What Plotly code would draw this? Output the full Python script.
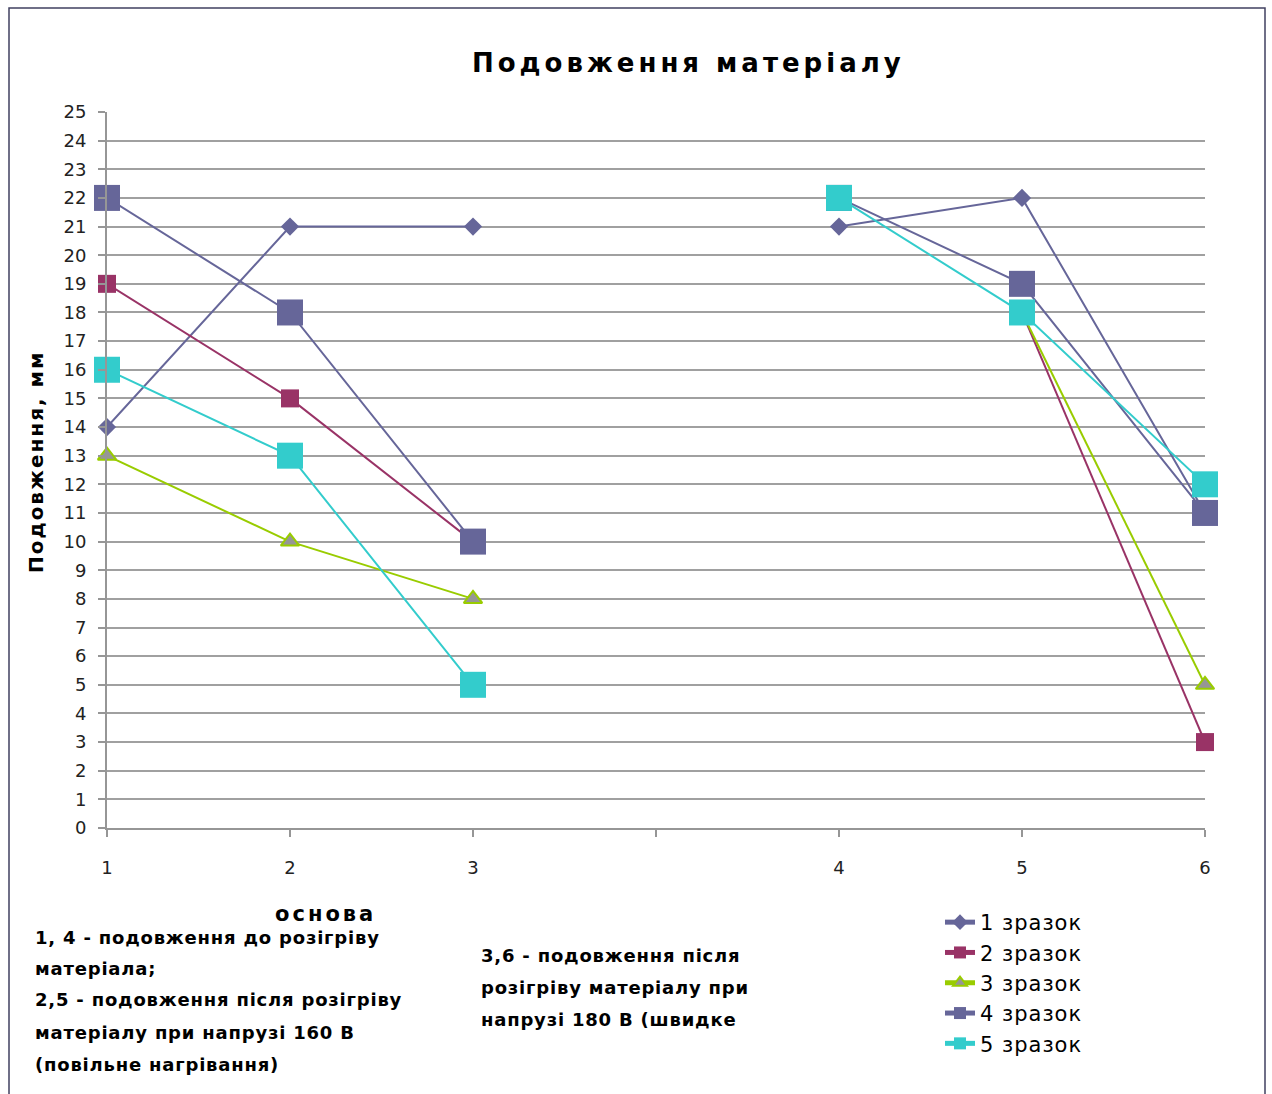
import plotly.graph_objects as go

# Category labels along the x axis (the empty slot separates the two test groups)
categories = ["1", "2", "3", "", "4", "5", "6"]

# Elongation, mm, for each specimen
series_names = ["1 зразок", "2 зразок", "3 зразок", "4 зразок", "5 зразок"]
sample1 = [14, 21, 21, None, 21, 22, 11]
sample2 = [19, 15, 10, None, None, 18, 3]
sample3 = [13, 10, 8, None, None, 18, 5]
sample4 = [22, 18, 10, None, 22, 19, 11]
sample5 = [16, 13, 5, None, 22, 18, 12]

y_ticks = list(range(0, 26))

W, H = 1272, 1094
L, R, T, B = 107, 1205, 112, 828  # plot area in pixels


def px(x):
    return (x - L) / (R - L)


def py(y):
    return (B - y) / (B - T)


xpos = list(range(len(categories)))

styles = [
    dict(color="#666699", symbol="diamond", size=14, fill="#666699", lw=0),
    dict(color="#993366", symbol="square", size=18, fill="#993366", lw=0),
    dict(color="#99CC00", symbol="triangle-up", size=16, fill="#969696", lw=2),
    dict(color="#666699", symbol="square", size=26, fill="#666699", lw=0),
    dict(color="#33CCCC", symbol="square", size=26, fill="#33CCCC", lw=0),
]

fig = go.Figure()
for name, vals, st in zip(series_names, [sample1, sample2, sample3, sample4, sample5], styles):
    fig.add_trace(go.Scatter(
        x=xpos, y=vals, mode="lines+markers",
        name="<span style='letter-spacing:1px'>" + name + "</span>",
        connectgaps=False, cliponaxis=False,
        line=dict(color=st["color"], width=2),
        marker=dict(symbol=st["symbol"], size=st["size"], color=st["fill"],
                    line=dict(color=st["color"], width=st["lw"])),
    ))

fig.update_layout(
    width=W, height=H,
    margin=dict(l=L, r=W - R, t=T, b=H - B),
    paper_bgcolor="white", plot_bgcolor="white",
    font=dict(family="DejaVu Sans", color="#000000"),
    showlegend=True,
    legend=dict(x=px(940), y=py(902), xanchor="left", yanchor="top",
                font=dict(family="DejaVu Sans", size=21, color="#000000"),
                bgcolor="rgba(0,0,0,0)", itemwidth=30, tracegroupgap=0,
                itemsizing="constant"),
    xaxis=dict(range=[0, 6], tickmode="array", tickvals=xpos, ticktext=categories,
               showgrid=False, zeroline=False, showline=True, linecolor="#969696",
               linewidth=2, ticks="outside", ticklen=7, tickcolor="#969696", tickwidth=2,
               tickfont=dict(size=18, color="#222222"), ticklabelstandoff=15),
    yaxis=dict(range=[0, 25], tickmode="array", tickvals=y_ticks,
               showgrid=True, gridcolor="#a0a0a0", gridwidth=2,
               zeroline=False, showline=True, linecolor="#969696", linewidth=2,
               ticks="outside", ticklen=7, tickcolor="#969696", tickwidth=2,
               tickfont=dict(size=18, color="#222222"), ticklabelstandoff=8),
)

ann = []
ann.append(dict(text="<b><span style='letter-spacing:4px'>Подовження матеріалу</span></b>",
                x=px(688), y=py(63), xanchor="center", yanchor="middle",
                font=dict(size=26)))
ann.append(dict(text="<b><span style='letter-spacing:2px'>Подовження, мм</span></b>",
                x=px(36), y=py(462), xanchor="center", yanchor="middle", textangle=-90,
                font=dict(size=20)))
ann.append(dict(text="<b><span style='letter-spacing:3px'>основа</span></b>",
                x=px(325), y=py(914), xanchor="center", yanchor="middle",
                font=dict(size=21)))

body = "<b><span style='letter-spacing:0.8px'>{}</span></b>"

left_lines = ["1, 4 - подовження до розігріву", "матеріала;",
              "2,5 - подовження після розігріву", "матеріалу при напрузі 160 В",
              "(повільне нагрівання)"]
left_y = [937, 968, 1000, 1032, 1064]
for t, yy in zip(left_lines, left_y):
    ann.append(dict(text=body.format(t), x=px(33), y=py(yy),
                    xanchor="left", yanchor="middle", font=dict(size=18)))

mid_lines = ["3,6 - подовження після", "розігріву матеріалу при", "напрузі 180 В (швидке"]
mid_y = [955, 987, 1019]
for t, yy in zip(mid_lines, mid_y):
    ann.append(dict(text=body.format(t), x=px(479), y=py(yy),
                    xanchor="left", yanchor="middle", font=dict(size=18)))

for a in ann:
    a.update(xref="paper", yref="paper", showarrow=False)
fig.update_layout(annotations=ann)

# Outer chart frame
fig.add_shape(type="rect", xref="paper", yref="paper",
              x0=px(9), x1=px(1265), y0=py(1110), y1=py(8),
              line=dict(color="#404060", width=1.5), fillcolor="rgba(0,0,0,0)", layer="below")

fig.write_html("out.html")
